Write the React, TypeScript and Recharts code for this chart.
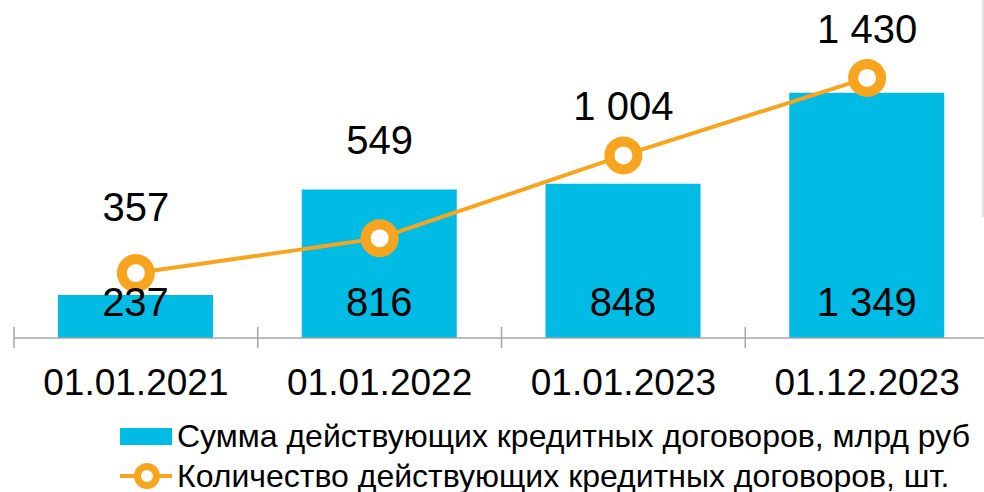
import React from "react";
import {
  ComposedChart, Bar, Line, XAxis, YAxis, LabelList, Legend,
} from "recharts";

const dates = ["01.01.2021", "01.01.2022", "01.01.2023", "01.12.2023"];
const sumValues = [237, 816, 848, 1349]; // млрд руб
const countValues = [357, 549, 1004, 1430]; // шт.

const sumName = "Сумма действующих кредитных договоров, млрд руб";
const countName = "Количество действующих кредитных договоров, шт.";

const BLUE = "#00BCE5";
const ORANGE = "#F7A51F";
const AXIS = "#A6A6A6";
const FONT = "'Liberation Sans', Arial, sans-serif";

// how far above each point its label sits (as in the source slide)
const LINE_LABEL_LIFT = [52, 84, 35, 35];

const W = 990;
const H = 492;
const M = { top: 47, right: 1, left: 14, bottom: 0 };
const BAND = (W - M.left - M.right) / dates.length;

const data = dates.map((d, i) => ({ date: d, sum: sumValues[i], count: countValues[i] }));

const fmt = (v: number) => String(v).replace(/\B(?=(\d{3})+(?!\d))/g, " ");

function DateTick({ x, y, payload }: any) {
  const left = x - BAND / 2;
  return (
    <g>
      <line x1={left} x2={left} y1={y - 11} y2={y + 10} stroke={AXIS} strokeWidth={1.5} />
      <text x={x} y={y + 57} textAnchor="middle" fontSize={37} fill="#000" fontFamily={FONT}>
        {payload.value}
      </text>
    </g>
  );
}

function CountLabel(props: any) {
  const { x, y, value, index } = props;
  const i = typeof index === "number" ? index : countValues.indexOf(value);
  return (
    <text x={x} y={y - LINE_LABEL_LIFT[i]} textAnchor="middle" fontSize={40} fill="#000" fontFamily={FONT}>
      {fmt(value)}
    </text>
  );
}

function LegendBox() {
  const row: React.CSSProperties = { display: "flex", alignItems: "center", height: 40 };
  const txt: React.CSSProperties = { marginLeft: 5, fontSize: 32, color: "#000", whiteSpace: "nowrap" };
  return (
    <div style={{ paddingLeft: 120, paddingTop: 28, fontFamily: FONT }}>
      <div style={row}>
        <svg width={52} height={17}><rect width={52} height={17} fill={BLUE} /></svg>
        <span style={txt}>{sumName}</span>
      </div>
      <div style={row}>
        <svg width={52} height={28}>
          <line x1={0} x2={52} y1={14} y2={14} stroke={ORANGE} strokeWidth={4} />
          <circle cx={27} cy={14} r={9.5} fill="#fff" stroke={ORANGE} strokeWidth={7} />
        </svg>
        <span style={txt}>{countName}</span>
      </div>
    </div>
  );
}

export default function App() {
  return (
    <div style={{ position: "absolute", left: 0, top: 0, width: 984, height: 492, overflow: "hidden", background: "#fff", fontFamily: FONT }}>
      <div style={{ position: "absolute", left: 982, top: 0, width: 1.5, height: 217, background: "#E3E3E3" }} />
      <ComposedChart width={W} height={H} data={data} margin={M}>
        <XAxis
          dataKey="date"
          height={50}
          tickSize={0}
          tickMargin={0}
          axisLine={{ stroke: AXIS, strokeWidth: 1.5 }}
          tickLine={false}
          tick={<DateTick />}
          interval={0}
        />
        <YAxis hide domain={[0, 1600]} />
        <Legend verticalAlign="bottom" height={104} content={<LegendBox />} wrapperStyle={{ left: 0, width: 984 }} />
        <Bar dataKey="sum" name={sumName} fill={BLUE} barSize={155} isAnimationActive={false}>
          <LabelList dataKey="sum" position="insideBottom" offset={22} fontSize={40} fill="#000" fontFamily={FONT} formatter={(v: any) => fmt(v)} />
        </Bar>
        <Line
          dataKey="count"
          name={countName}
          stroke={ORANGE}
          strokeWidth={4}
          dot={{ r: 14, fill: "#fff", stroke: ORANGE, strokeWidth: 10 }}
          activeDot={false}
          isAnimationActive={false}
        >
          <LabelList dataKey="count" content={<CountLabel />} />
        </Line>
      </ComposedChart>
    </div>
  );
}
